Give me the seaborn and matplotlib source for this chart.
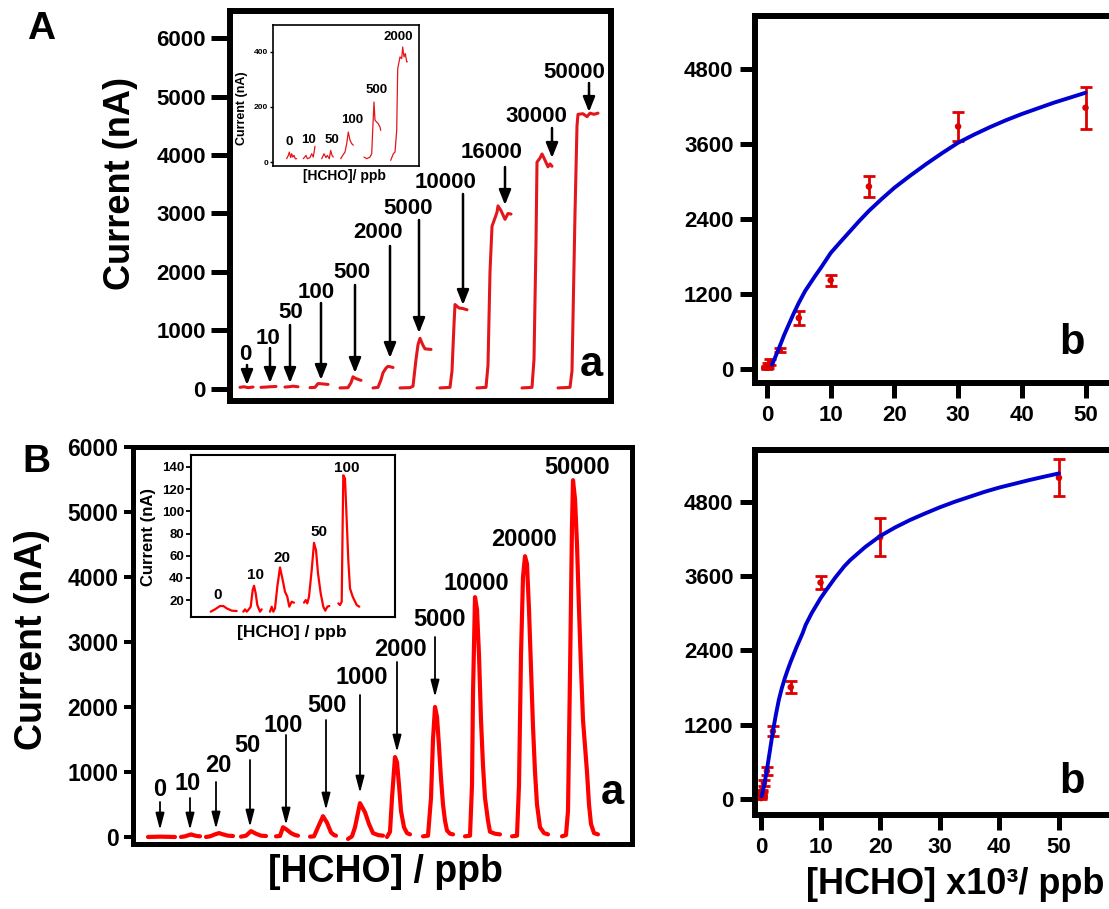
import numpy as np
import pandas as pd
import matplotlib
matplotlib.use("Agg")
import matplotlib.pyplot as plt
import seaborn as sns

# ---------------- data ----------------
# Panel A(a): amperometric steps (time in a.u., current in nA); segment id per point
A_seg_labels = ["0", "10", "50", "100", "500", "2000", "5000", "10000", "16000", "30000", "50000"]
A_seg_len = [4, 4, 4, 5, 6, 8, 9, 8, 11, 11, 11]
A_t = [10, 14, 18, 23,
       31, 36, 40, 46,
       55, 59, 63, 68,
       80, 85, 88, 92, 98,
       110, 118, 121, 123, 126, 131,
       143, 148, 151, 153, 156, 158, 161, 163,
       170, 180, 183, 186, 188, 190, 193, 195, 201,
       210, 220, 222, 224, 225, 229, 233, 237,
       247, 256, 258, 260, 262, 267, 268, 271, 275, 278, 281,
       292, 302, 304, 306, 307, 310, 312, 314, 318, 320, 322,
       328, 340, 342, 345, 347, 348, 353, 357, 360, 364, 368]
A_nA = [20, 30, 15, 25,
        20, 25, 30, 35,
        25, 30, 40, 30,
        15, 20, 85, 80, 70,
        10, 15, 100, 200, 170, 140,
        10, 20, 150, 270, 350, 380, 370, 360,
        10, 15, 40, 500, 750, 860, 740, 680, 670,
        10, 20, 300, 1100, 1440, 1380, 1370, 1350,
        10, 20, 400, 2000, 2780, 3020, 3130, 3050, 2900, 3000, 2990,
        10, 20, 500, 2500, 3880, 3950, 4020, 3950, 3800, 3850, 3810,
        10, 20, 300, 3000, 4500, 4700, 4710, 4660, 4720, 4700, 4720]

# Inset of A(a)
Ai_seg_labels = ["0", "10", "50", "100", "500", "2000"]
Ai_seg_len = [9, 7, 8, 8, 11, 12]
Ai_t = [13.7, 15.3, 16.3, 17.7, 18.7, 19.7, 21.0, 22.3, 23.7,
        30.3, 33.0, 34.3, 37.0, 38.7, 40.3, 42.0,
        48.7, 51.0, 53.0, 54.3, 56.3, 57.7, 59.0, 60.3,
        67.7, 69.7, 72.0, 73.7, 75.3, 77.0, 78.7, 80.3,
        91.0, 93.7, 97.0, 98.7, 99.7, 101.0, 102.0, 103.7, 105.3, 107.0, 107.7,
        117.7, 120.3, 122.0, 123.7, 124.7, 127.0, 128.7, 129.7, 131.0, 132.3, 133.7, 134.3]
Ai_nA = [12, 24, 36, 16, 30, 18, 24, 12, 12,
         12, 24, 12, 16, 30, 18, 57,
         12, 30, 16, 24, 12, 42, 24, 18,
         12, 24, 36, 67, 109, 79, 67, 61,
         18, 12, 18, 30, 115, 218, 152, 145, 139, 127, 115,
         6, 30, 36, 115, 339, 382, 376, 418, 382, 394, 364, 364]

# Panel B(a): FIA peaks
B_seg_labels = ["0", "10", "20", "50", "100", "500", "1000", "2000", "5000", "10000", "20000", "50000"]
B_seg_len = [3, 7, 7, 6, 7, 8, 9, 10, 13, 14, 15, 17]
B_t = [15, 27, 42,
       48, 52, 56, 58, 61, 64, 67,
       73, 77, 82, 86, 90, 95, 100,
       108, 113, 118, 123, 128, 133,
       143, 147, 150, 154, 158, 162, 165,
       177, 181, 185, 190, 194, 198, 201, 203,
       215, 219, 222, 227, 232, 236, 240, 245, 250,
       254, 257, 259, 262, 264, 266, 268, 271, 274, 277,
       290, 295, 298, 300, 302, 304, 306, 308, 310, 312, 314, 317, 320,
       332, 337, 339, 340, 342, 344, 346, 348, 350, 352, 355, 357, 362, 367,
       379, 384, 386, 388, 390, 392, 394, 396, 398, 400, 402, 404, 407, 411, 415,
       429, 433, 435, 437, 439, 440, 442, 444, 446, 448, 450, 452, 454, 456, 458, 461, 465]
B_nA = [0, 5, 0,
        0, 10, 30, 40, 25, 15, 10,
        0, 10, 40, 60, 40, 20, 15,
        5, 20, 90, 50, 20, 15,
        10, 15, 150, 110, 60, 30, 20,
        5, 10, 150, 320, 220, 70, 30, 20,
        -30, 10, 150, 520, 380, 200, 60, 30, 20,
        0, 80, 600, 1230, 1150, 800, 400, 150, 60, 40,
        10, 20, 600, 1500, 2000, 1850, 1400, 900, 500, 250, 100, 50, 40,
        10, 20, 800, 2200, 3690, 3500, 2800, 1800, 1100, 600, 250, 80, 50, 40,
        10, 20, 800, 2800, 4000, 4320, 4200, 3500, 2600, 1700, 1000, 500, 150, 60, 40,
        10, 30, 400, 2500, 4800, 5490, 5200, 4500, 3500, 2600, 1800, 1400, 1000, 500, 200, 60, 40]

# Inset of B(a)
Bi_seg_labels = ["0", "10", "20", "50", "100"]
Bi_seg_len = [7, 11, 12, 13, 12]
Bi_t = [19.7, 24.0, 29.0, 32.3, 35.7, 40.7, 45.7,
        52.3, 54.0, 55.7, 57.3, 59.7, 61.7, 63.0, 64.7, 66.3, 69.0, 70.7,
        79.0, 80.7, 82.3, 84.0, 86.3, 89.0, 91.7, 94.0, 96.3, 98.3, 100.7, 103.0,
        113.0, 114.7, 116.3, 118.0, 120.7, 123.0, 125.0, 127.0, 129.7, 132.3, 134.3, 136.3, 138.3,
        147.3, 149.0, 150.7, 151.7, 152.3, 154.0, 155.7, 157.3, 159.0, 161.7, 165.7, 168.3]
Bi_nA = [9.5, 11.6, 14.6, 14.6, 12.5, 10.4, 10.1,
         9.5, 11.6, 9.5, 11.0, 14.0, 29.0, 32.9, 26.0, 15.5, 9.5, 11.6,
         9.5, 14.0, 9.5, 12.5, 32.0, 49.4, 38.0, 27.5, 23.0, 14.0, 18.5, 17.6,
         17.6, 20.0, 17.0, 23.0, 47.0, 71.6, 65.0, 44.0, 26.0, 14.0, 10.4, 14.0, 14.6,
         17.0, 15.5, 18.5, 92.0, 132.5, 129.5, 92.0, 56.0, 30.5, 23.0, 15.5, 14.0]

# Calibration A(b)
Ab_conc = [0, 0.01, 0.05, 0.1, 0.5, 2, 5, 10, 16, 30, 50]
Ab_cur = [20, 25, 30, 60, 112, 304, 816, 1420, 2920, 3880, 4180]
Ab_err = [15, 15, 15, 40, 50, 25, 107, 88, 165, 235, 336]
Ab_fit_x = [0.8, 1.4, 2, 2.7, 3.5, 4.2, 5, 6, 7.5, 8.5, 10, 11.5, 13, 14.5, 16, 18, 20, 22.5, 25,
            27.5, 30, 32.5, 35, 37.5, 40, 42.5, 45, 47.5, 50]
Ab_fit_y = [69, 215, 363, 545, 730, 890, 1060, 1250, 1480, 1625, 1856, 2030, 2200, 2370, 2530,
            2720, 2900, 3095, 3280, 3455, 3620, 3750, 3870, 3980, 4080, 4170, 4260, 4340, 4420]

# Calibration B(b)
Bb_conc = [0, 0.01, 0.02, 0.05, 0.1, 0.5, 1, 2, 5, 10, 20, 50]
Bb_cur = [15, 33, 48, 72, 130, 259, 453, 1095, 1806, 3495, 4226, 5188]
Bb_err = [10, 10, 10, 10, 15, 45, 60, 80, 94, 102, 309, 300]
Bb_fit_x = [0.1, 0.3, 0.5, 0.75, 1, 1.5, 2, 2.5, 3, 3.5, 4, 4.5, 5, 6, 7, 7.5, 8.5, 10, 11, 12.5,
            14, 15, 17.5, 20, 22.5, 25, 27.5, 30, 32.5, 35, 37.5, 40, 42.5, 45, 47.5, 50]
Bb_fit_y = [43, 120, 204, 335, 473, 780, 1091, 1360, 1602, 1790, 1950, 2090, 2220, 2460, 2680,
            2812, 3000, 3242, 3380, 3580, 3760, 3860, 4070, 4247, 4385, 4505, 4610, 4710, 4800,
            4880, 4960, 5030, 5090, 5150, 5205, 5258]

main_yticks = [0, 1000, 2000, 3000, 4000, 5000, 6000]
cal_yticks = [0, 1200, 2400, 3600, 4800]
cal_xticks = [0, 10, 20, 30, 40, 50]
Ai_yticks = [0, 200, 400]
Bi_yticks = [20, 40, 60, 80, 100, 120, 140]

# ---------------- style ----------------
W, H = 1109, 909
sns.set_style("ticks", {"axes.edgecolor": "black", "xtick.color": "black", "ytick.color": "black",
                        "text.color": "black", "axes.labelcolor": "black"})
plt.rcParams['font.family'] = ['Liberation Sans', 'DejaVu Sans']
plt.rcParams['font.weight'] = 'bold'
plt.rcParams['axes.labelweight'] = 'bold'

fig = plt.figure(figsize=(W / 100, H / 100), dpi=100)


def rect(l, t, r, b):
    return [l / W, 1 - b / H, (r - l) / W, (b - t) / H]


def ftext(x, y, s, size, **kw):
    fig.text(x / W, 1 - y / H, s, fontsize=size, fontweight='bold', ha=kw.pop('ha', 'center'),
             va=kw.pop('va', 'center'), **kw)


def arrow(x, y0, y1, lw, style, ms):
    fig.add_artist(matplotlib.patches.FancyArrowPatch(
        (x / W, 1 - y0 / H), (x / W, 1 - y1 / H), transform=fig.transFigure,
        arrowstyle=style, mutation_scale=ms, lw=lw, color='black', shrinkA=0, shrinkB=0))


def trace_df(t, v, lens):
    seg = np.repeat(np.arange(len(lens)), lens)
    return pd.DataFrame({'t': t, 'nA': v, 'seg': seg})


def style_axes(ax, spine_lw):
    for s in ax.spines.values():
        s.set_visible(True)
        s.set_linewidth(spine_lw)
        s.set_color('black')
    ax.set_xlabel('')
    ax.set_ylabel('')


# ---------------- A(a) ----------------
axAa = fig.add_axes(rect(230, 11, 611, 401))
sns.lineplot(data=trace_df(A_t, A_nA, A_seg_len), x='t', y='nA', units='seg', estimator=None,
             sort=False, color='#e3161b', lw=2.2, ax=axAa)
axAa.set_xlim(0, 381)
axAa.set_ylim(-214, 6471)
axAa.set_xticks([])
axAa.set_yticks(main_yticks)
axAa.tick_params(axis='y', length=13.5, width=3.6, pad=4, labelsize=16)
style_axes(axAa, 4.3)

A_lab_pos = [(245, 355), (268, 338), (291, 313), (316, 292), (352, 272), (378, 232), (408, 208),
             (446, 182), (492, 153), (536, 117), (574, 72)]
A_arrows = [(247, 365, 385), (270, 348, 383), (290, 325, 383), (321, 303, 380), (355, 285, 373),
            (390, 246, 358), (419, 220, 333), (463, 194, 305), (505, 167, 205), (552, 128, 158),
            (589, 83, 112)]
for lab, (x, y) in zip(A_seg_labels, A_lab_pos):
    ftext(x, y, lab, 16)
for (x, y0, y1) in A_arrows:
    arrow(x, y0, y1, 1.8, '-|>,head_length=0.45,head_width=0.18', 20)
ftext(591, 365, 'a', 30)

# inset A
axAi = fig.add_axes(rect(273, 25, 419, 166))
sns.lineplot(data=trace_df(Ai_t, Ai_nA, Ai_seg_len), x='t', y='nA', units='seg', estimator=None,
             sort=False, color='#e3161b', lw=0.9, ax=axAi)
axAi.set_xlim(0, 146)
axAi.set_ylim(-14.5, 498)
axAi.set_xticks([])
axAi.set_yticks(Ai_yticks)
axAi.tick_params(axis='y', length=2.5, width=1, pad=1, labelsize=6)
style_axes(axAi, 1.2)
Ai_lab_pos = [(289, 142), (309, 140), (332, 140), (352, 120), (377, 90), (398, 37)]
for lab, (x, y) in zip(Ai_seg_labels, Ai_lab_pos):
    ftext(x, y, lab, 9.5)
ftext(242, 108, 'Current (nA)', 9, rotation=90)
ftext(344, 176, '[HCHO]/ ppb', 10)

# ---------------- A(b) ----------------
axAb = fig.add_axes(rect(755, 16, 1140, 383))
axAb.errorbar(Ab_conc, Ab_cur, yerr=Ab_err, fmt='none', ecolor='#dd0000', elinewidth=2,
              capsize=4.5, capthick=2, zorder=2)
sns.scatterplot(x=Ab_conc, y=Ab_cur, color='#dd0000', s=22, edgecolor='none', ax=axAb, zorder=3)
sns.lineplot(x=Ab_fit_x, y=Ab_fit_y, color='#0000d0', lw=2.8, ax=axAb, zorder=4)
axAb.set_xlim(-1.88, 58.55)
axAb.set_ylim(-224, 5648)
axAb.set_xticks(cal_xticks)
axAb.set_yticks(cal_yticks)
axAb.tick_params(axis='both', length=10.5, width=3.6, pad=5, labelsize=16)
style_axes(axAb, 4.3)
ftext(1072, 343, 'b', 30)

# ---------------- B(a) ----------------
axBa = fig.add_axes(rect(133, 447, 632, 844))
sns.lineplot(data=trace_df(B_t, B_nA, B_seg_len), x='t', y='nA', units='seg', estimator=None,
             sort=False, color='#ff0000', lw=3, ax=axBa)
axBa.set_xlim(0, 499)
axBa.set_ylim(-108, 6000)
axBa.set_xticks([])
axBa.set_yticks(main_yticks)
axBa.tick_params(axis='y', length=6.5, width=2.9, pad=4, labelsize=16.5)
style_axes(axBa, 3.6)

B_lab_pos = [(160, 790), (188, 783), (218, 765), (247, 745), (283, 725), (327, 705), (362, 678),
             (400, 650), (440, 620), (476, 583), (524, 540), (577, 467)]
B_arrows = [(160, 802, 830), (190, 798, 830), (216, 782, 829), (250, 760, 827), (286, 735, 825),
            (326, 720, 810), (360, 695, 793), (397, 662, 752), (435, 637, 697)]
for lab, (x, y) in zip(B_seg_labels, B_lab_pos):
    ftext(x, y, lab, 17)
for (x, y0, y1) in B_arrows:
    arrow(x, y0, y1, 1.3, '-|>,head_length=0.5,head_width=0.13', 20)
ftext(612, 793, 'a', 30)

# inset B
axBi = fig.add_axes(rect(191, 455, 395, 617))
sns.lineplot(data=trace_df(Bi_t, Bi_nA, Bi_seg_len), x='t', y='nA', units='seg', estimator=None,
             sort=False, color='#ff0000', lw=1.6, ax=axBi)
axBi.set_xlim(0, 204)
axBi.set_ylim(4.7, 150.8)
axBi.set_xticks([])
axBi.set_yticks(Bi_yticks)
axBi.tick_params(axis='y', length=3.5, width=1.3, pad=1.5, labelsize=9.5)
style_axes(axBi, 1.5)
Bi_lab_pos = [(218, 595), (255, 575), (282, 558), (319, 532), (347, 468)]
for lab, (x, y) in zip(Bi_seg_labels, Bi_lab_pos):
    ftext(x, y, lab, 11)
ftext(149, 537, 'Current (nA)', 12, rotation=90)
ftext(292, 632, '[HCHO] / ppb', 12.5)

# ---------------- B(b) ----------------
axBb = fig.add_axes(rect(755, 450, 1140, 815))
axBb.errorbar(Bb_conc, Bb_cur, yerr=Bb_err, fmt='none', ecolor='#dd0000', elinewidth=2,
              capsize=4.5, capthick=2, zorder=2)
sns.scatterplot(x=Bb_conc, y=Bb_cur, color='#dd0000', s=22, edgecolor='none', ax=axBb, zorder=3)
sns.lineplot(x=Bb_fit_x, y=Bb_fit_y, color='#0000d0', lw=2.8, ax=axBb, zorder=4)
axBb.set_xlim(-1.0, 63.6)
axBb.set_ylim(-258, 5636)
axBb.set_xticks(cal_xticks)
axBb.set_yticks(cal_yticks)
axBb.tick_params(axis='both', length=10.5, width=3.6, pad=5, labelsize=16)
style_axes(axBb, 4.3)
ftext(1072, 782, 'b', 30)

# ---------------- labels ----------------
ftext(41, 29, 'A', 28)
ftext(36, 462, 'B', 28)
ftext(120, 183, 'Current (nA)', 26, rotation=90)
ftext(32, 640, 'Current (nA)', 27, rotation=90)
ftext(385, 872, '[HCHO] / ppb', 27)
ftext(955, 885, '[HCHO] x10³/ ppb', 26)

fig.savefig('out.png', dpi=100)
